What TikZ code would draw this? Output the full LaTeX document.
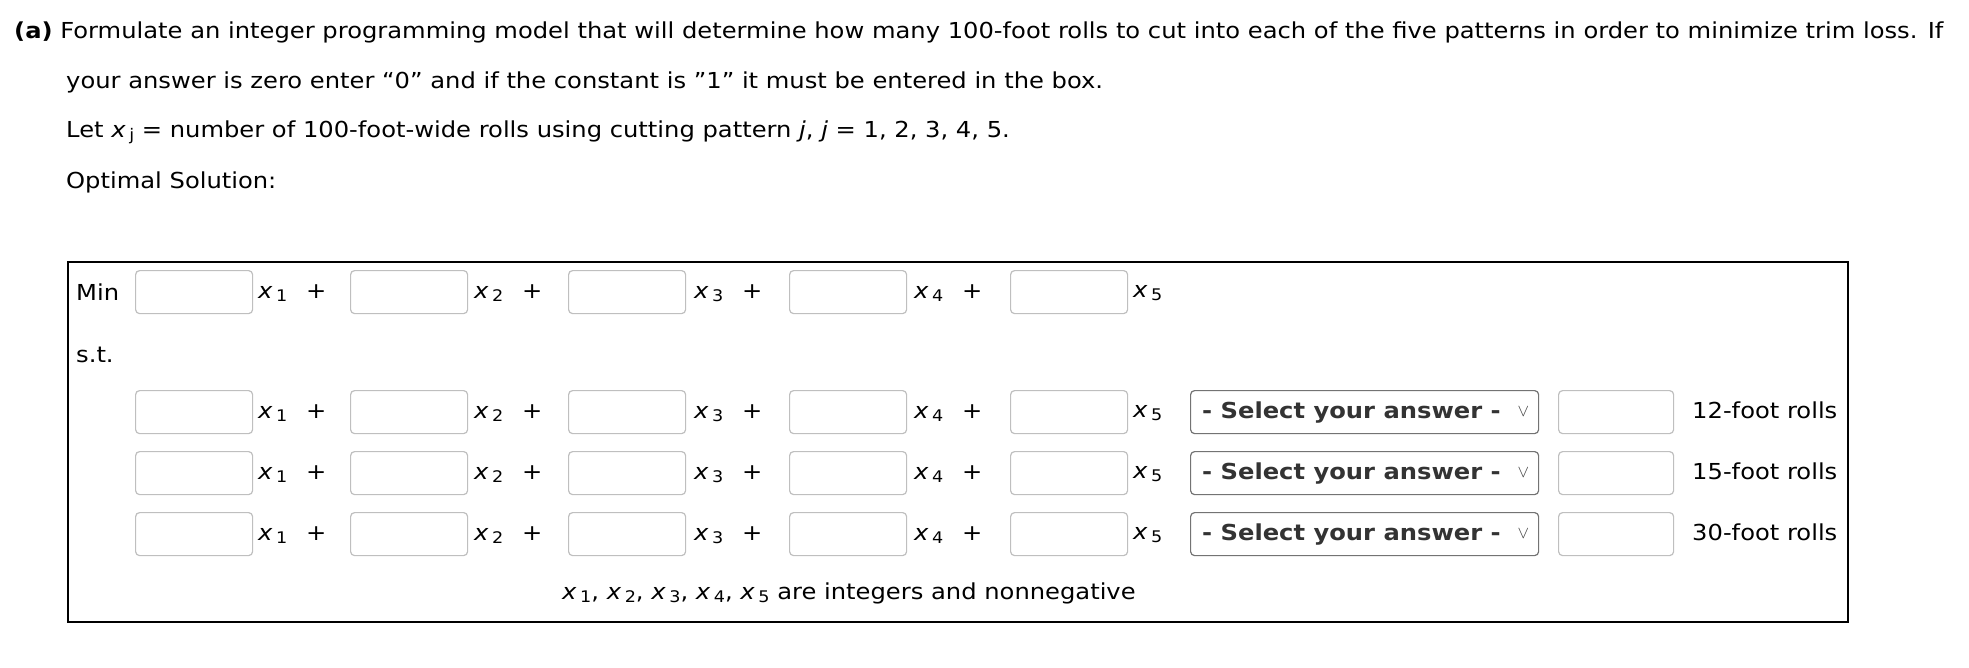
\documentclass[tikz,border=0pt]{standalone}
\usepackage{fontspec}
\setmainfont[FakeStretch=1.1]{DejaVu Sans}
\begin{document}
\begin{tikzpicture}[x=1pt,y=-1pt,
  txt/.style={anchor=west,inner sep=0pt,font=\fontsize{22}{26}\selectfont},
  inbox/.style={draw=black!25,line width=1.2pt,rounded corners=4pt,minimum width=117pt,minimum height=43pt,anchor=north west,inner sep=0pt},
  ddbox/.style={draw=black!55,line width=1.2pt,rounded corners=4pt,minimum width=348pt,minimum height=43pt,anchor=north west,inner sep=0pt}]
\useasboundingbox (0,0) rectangle (1969,667);
\newcommand{\xv}[1]{{\itshape x}\,{\fontsize{16}{18}\selectfont\raisebox{-3pt}{#1}}}
\node[txt] (l1) at (14,32) {\textbf{(a)} Formulate an integer programming model that will determine how many 100-foot rolls to cut into each of the five patterns in order to minimize trim loss. If};
\node[txt] (l2) at (66,82) {your answer is zero enter “0” and if the constant is "1" it must be entered in the box.};
\node[txt] (l3) at (66,132) {Let \xv{j} = number of 100-foot-wide rolls using cutting pattern \textit{j}, \textit{j} = 1, 2, 3, 4, 5.};
\node[txt] (l4) at (66,182) {Optimal Solution:};
\draw[line width=1.5pt] (68,262) rectangle (1848,622);
\node[txt] (min) at (76,292) {Min};
\node[txt] (st) at (76,355) {s.t.};
\foreach \r/\y in {0/270,1/390,2/451,3/512}{
  \foreach \bx/\lx/\i in {135/258/1,350/474/2,568/694/3,789/914/4,1010/1133/5}{
    \node[inbox] (b\r\i) at (\bx,\y) {};
    \ifnum\i<5
      \node[txt] (v\r\i) at (\lx,\y+23) {\xv{\i}\enspace\ +};
    \else
      \node[txt] (v\r\i) at (\lx,\y+23) {\xv{\i}};
    \fi
  }
}
\foreach \r/\y/\t in {1/390/12,2/451/15,3/512/30}{
  \node[ddbox] (d\r) at (1190,\y) {};
  \node[anchor=west,inner sep=0pt,font=\fontsize{22}{26}\selectfont\bfseries,text=black!80] (s\r) at ([xshift=12pt]d\r.west) {- Select your answer -};
  \node[anchor=east,inner sep=0pt,font=\fontsize{18}{18}\selectfont,text=black!75] (a\r) at ([xshift=-10pt]d\r.east) {$\vee$};
  \node[inbox,minimum width=115pt] (r\r) at (1558,\y) {};
  \node[txt] (t\r) at (1692,\y+20) {\t-foot rolls};
}
\node[txt] (bot) at (562,593) {\xv{1}, \xv{2}, \xv{3}, \xv{4}, \xv{5} are integers and nonnegative};
\end{tikzpicture}
\end{document}
